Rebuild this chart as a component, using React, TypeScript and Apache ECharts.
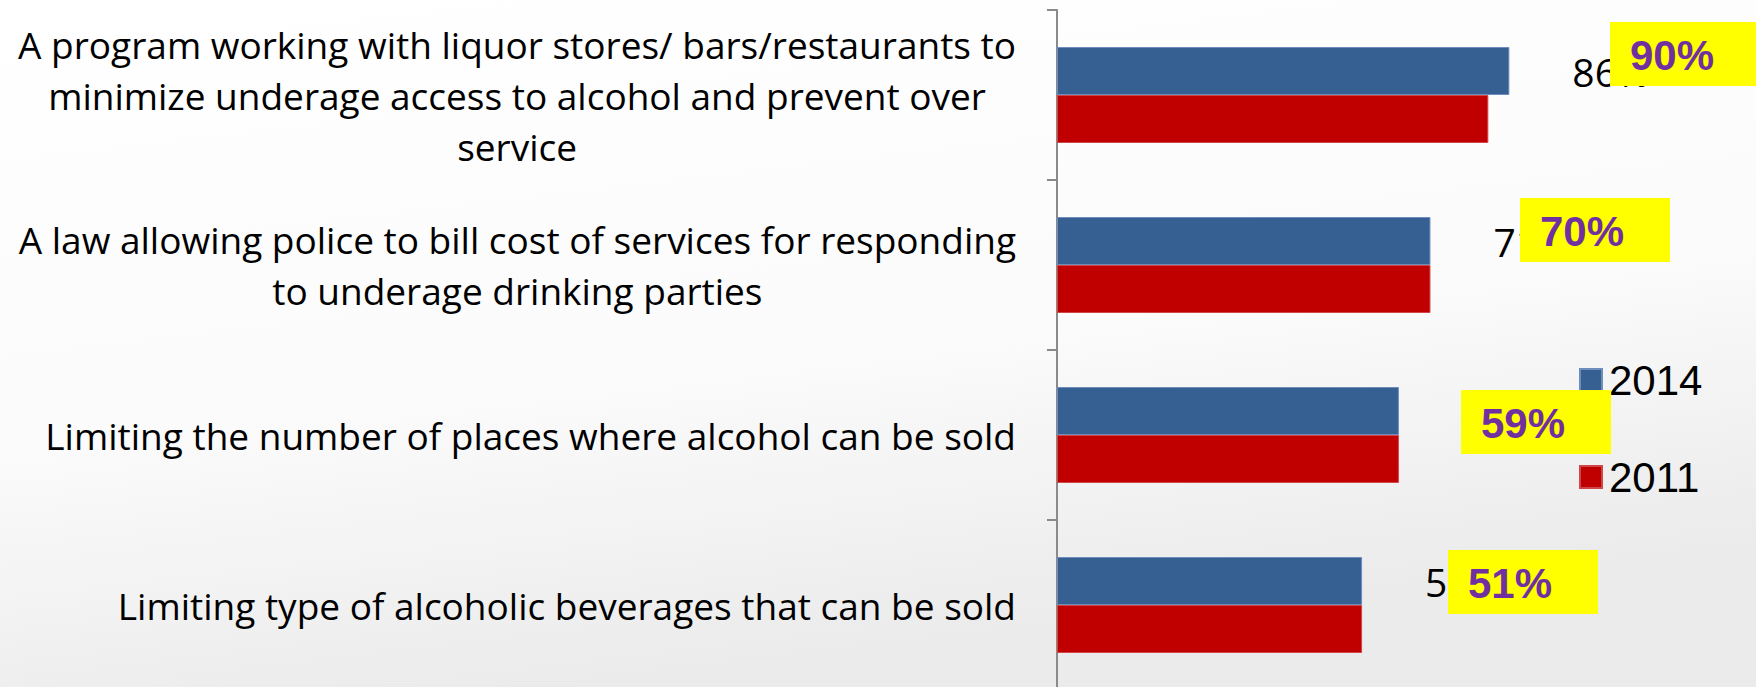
import React, { useEffect, useRef } from "react";
import * as echarts from "echarts";

const categories = [
  "A program working with liquor stores/ bars/restaurants to\nminimize underage access to alcohol and prevent over\nservice",
  "A law allowing police to bill cost of services for responding\nto underage drinking parties",
  "Limiting the number of places where alcohol can be sold",
  "Limiting type of alcoholic beverages that can be sold",
];
const seriesNames = ["2014", "2011"];
const values2014 = [86, 71, 65, 58];
const values2011 = [82, 71, 65, 58];
const annotationLabels = ["90%", "70%", "59%", "51%"];

// callout boxes (layout only)
const calloutBoxes = [
  { x: 1610, y: 22 },
  { x: 1520, y: 198 },
  { x: 1461, y: 390 },
  { x: 1448, y: 550 },
];

const CAT_FONT = "'Open Sans', 'Noto Sans', sans-serif";
const ARIAL = "'Liberation Sans', Arial, sans-serif";

export default function App() {
  const ref = useRef<HTMLDivElement>(null);
  useEffect(() => {
    if (!ref.current) return;
    const chart = echarts.init(ref.current, null, { renderer: "svg" });
    const graphics: any[] = calloutBoxes.map((b, i) => ({
      type: "group",
      x: b.x,
      y: b.y,
      z: 100,
      children: [
        {
          type: "rect",
          shape: { x: 0, y: 0, width: 150, height: 64 },
          style: { fill: "#ffff00" },
          z: 100,
        },
        {
          type: "text",
          x: 20,
          y: 33,
          z: 101,
          style: {
            text: annotationLabels[i],
            fill: "#7030a0",
            font: `bold 42px ${ARIAL}`,
            textVerticalAlign: "middle",
            textAlign: "left",
          },
        },
      ],
    }));
    chart.setOption({
      animation: false,
      backgroundColor: {
        type: "linear",
        x: 0,
        y: 0,
        x2: 0.3,
        y2: 1,
        colorStops: [
          { offset: 0, color: "#ffffff" },
          { offset: 0.6, color: "#fbfbfb" },
          { offset: 1, color: "#ebebeb" },
        ],
      },
      grid: {
        left: 1057,
        top: 10,
        width: 526,
        height: 680,
        containLabel: false,
        outerBoundsMode: "none",
      },
      legend: {
        orient: "vertical",
        left: 1574,
        top: 351,
        itemWidth: 22,
        itemHeight: 22,
        itemGap: 49,
        icon: "rect",
        selectedMode: false,
        textStyle: {
          fontFamily: ARIAL,
          fontSize: 42,
          lineHeight: 48,
          color: "#000",
          padding: [0, 0, 0, 2],
        },
        data: seriesNames,
      },
      xAxis: {
        type: "value",
        min: 0,
        max: 100,
        show: false,
      },
      yAxis: {
        type: "category",
        inverse: true,
        data: categories,
        axisLine: { show: true, lineStyle: { color: "#8a8a8a", width: 2 } },
        axisTick: { show: true, length: 10, lineStyle: { color: "#8a8a8a", width: 2 } },
        splitLine: { show: false },
        axisLabel: {
          margin: 41,
          align: "right",
          formatter: (v: string) =>
            v
              .split("\n")
              .map((l) => `{c|${l}}`)
              .join("\n"),
          rich: {
            c: {
              align: "center",
              fontFamily: CAT_FONT,
              fontSize: 37,
              lineHeight: 51,
              color: "#000",
            },
          },
        },
      },
      series: [
        {
          name: seriesNames[0],
          type: "bar",
          data: values2014,
          barWidth: 48,
          barGap: "0%",
          itemStyle: { color: "#376092", borderColor: "#6d8ebd", borderWidth: 1 },
          label: {
            show: true,
            position: "right",
            distance: 63,
            formatter: "{c}%",
            fontFamily: CAT_FONT,
            fontSize: 39,
            color: "#000",
          },
        },
        {
          name: seriesNames[1],
          type: "bar",
          data: values2011,
          barWidth: 48,
          barGap: "0%",
          itemStyle: { color: "#c00000", borderColor: "#d04545", borderWidth: 1 },
        },
      ],
      graphic: graphics,
    });
    return () => chart.dispose();
  }, []);
  return (
    <div
      ref={ref}
      style={{ position: "absolute", left: 0, top: 0, width: 1756, height: 687 }}
    />
  );
}
